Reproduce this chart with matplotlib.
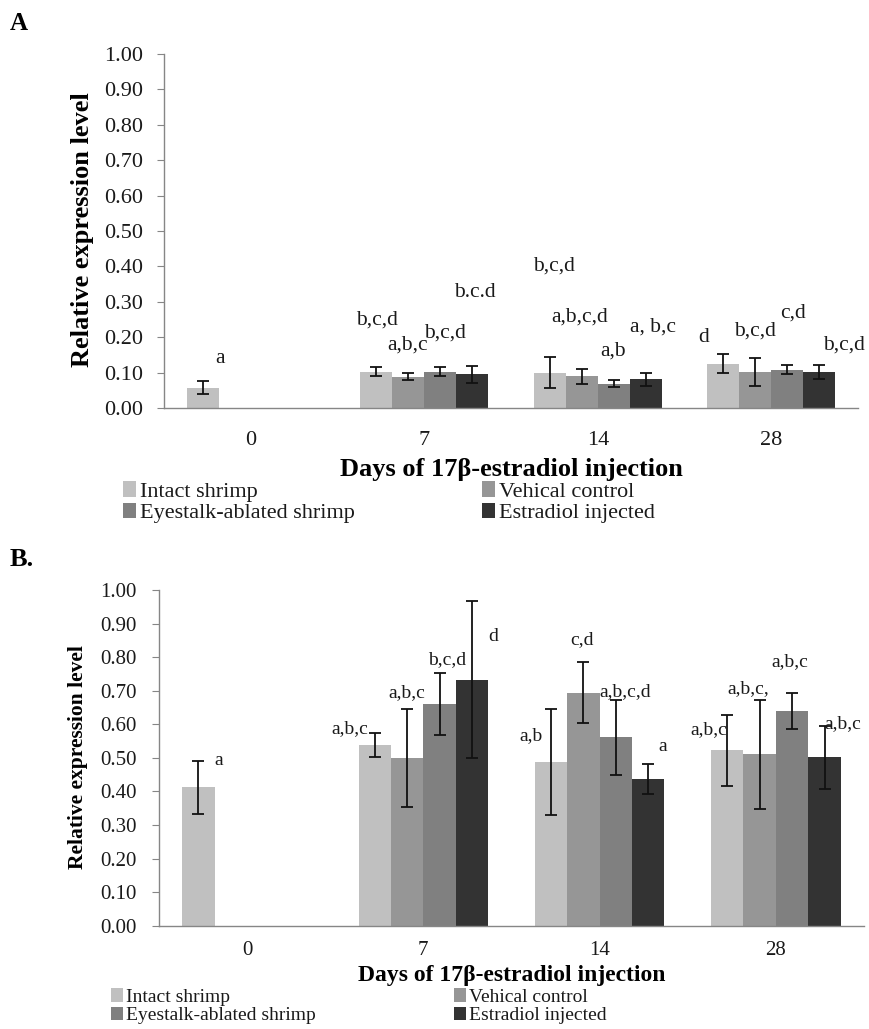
import numpy as np
import matplotlib
matplotlib.use("Agg")
import matplotlib.pyplot as plt

days = ["0", "7", "14", "28"]
series = ["Intact shrimp", "Vehical control", "Eyestalk-ablated shrimp", "Estradiol injected"]
colors = ["#c0c0c0", "#969696", "#808080", "#333333"]

# Panel A values (one list per series, one value per day)
a_intact = [0.057, 0.102, 0.100, 0.125]
a_vehical = [np.nan, 0.088, 0.090, 0.102]
a_eyestalk = [np.nan, 0.102, 0.068, 0.108]
a_estradiol = [np.nan, 0.095, 0.081, 0.102]
a_err_intact = [0.018, 0.013, 0.043, 0.027]
a_err_vehical = [np.nan, 0.010, 0.021, 0.040]
a_err_eyestalk = [np.nan, 0.013, 0.010, 0.013]
a_err_estradiol = [np.nan, 0.023, 0.019, 0.019]

# Panel B values
b_intact = [0.413, 0.539, 0.487, 0.522]
b_vehical = [np.nan, 0.499, 0.694, 0.510]
b_eyestalk = [np.nan, 0.661, 0.561, 0.639]
b_estradiol = [np.nan, 0.733, 0.438, 0.502]
b_err_intact = [0.079, 0.035, 0.158, 0.107]
b_err_vehical = [np.nan, 0.146, 0.091, 0.162]
b_err_eyestalk = [np.nan, 0.092, 0.111, 0.053]
b_err_estradiol = [np.nan, 0.233, 0.045, 0.094]

# Significance letters: text, x in category units, y in data units
a_letters = ["a", "b,c,d", "a,b,c", "b,c,d", "b.c.d", "b,c,d", "a,b,c,d", "a,b",
             "a, b,c", "d", "b,c,d", "c,d", "b,c,d"]
a_letter_x = [-0.18, 0.729, 0.904, 1.121, 1.294, 1.750, 1.894, 2.086, 2.319, 2.612, 2.906, 3.123, 3.417]
a_letter_y = [0.141, 0.248, 0.179, 0.212, 0.325, 0.400, 0.256, 0.160, 0.228, 0.200, 0.218, 0.268, 0.177]

b_letters = ["a", "a,b,c", "a,b,c", "b,c,d", "d", "a,b", "c,d", "a,b,c,d", "a",
             "a,b,c", "a,b,c,", "a,b,c", "a,b,c"]
b_letter_x = [-0.159, 0.581, 0.908, 1.137, 1.397, 1.608, 1.900, 2.147, 2.355, 2.618, 2.841, 3.080, 3.381]
b_letter_y = [0.492, 0.588, 0.694, 0.793, 0.861, 0.565, 0.851, 0.697, 0.533, 0.585, 0.707, 0.786, 0.601]

plt.rcParams['font.family'] = ['Liberation Serif', 'DejaVu Serif']

fig = plt.figure(figsize=(8.7, 10.29), dpi=100)
W, H = 870.0, 1029.0


def fx(px):
    return px / W


def fy(py):
    return 1 - py / H


axis_col = "#868686"
text_col = "#1a1a1a"


def draw_panel(ax, vals, errs, letters, lx, ly, tick_fs, letter_fs, xpad, ypad):
    x = np.arange(len(days))
    w = 0.184
    handles = []
    for j in range(4):
        h = ax.bar(x + (j - 1.5) * w, vals[j], width=w, color=colors[j],
                   edgecolor='none', label=series[j], zorder=2)
        ax.errorbar(x + (j - 1.5) * w, vals[j], yerr=errs[j], fmt='none',
                    ecolor='#111111', elinewidth=1.3, capsize=4, capthick=1.3, zorder=3)
        handles.append(h)
    ax.set_xlim(-0.5, 3.5)
    ax.set_ylim(0, 1.0)
    ticks = np.arange(0, 1.01, 0.1)
    ax.set_yticks(ticks)
    ax.set_yticklabels([f"{v:.2f}" for v in ticks])
    ax.set_xticks(x)
    ax.set_xticklabels(days)
    for s in ['top', 'right']:
        ax.spines[s].set_visible(False)
    for s in ['left', 'bottom']:
        ax.spines[s].set_color(axis_col)
        ax.spines[s].set_linewidth(1.0)
    ax.tick_params(axis='y', direction='out', length=5, color=axis_col,
                   labelsize=tick_fs, labelcolor=text_col, pad=ypad)
    ax.tick_params(axis='x', length=0, labelsize=tick_fs, labelcolor=text_col, pad=xpad)
    for t, xx, yy in zip(letters, lx, ly):
        ax.text(xx, yy, t, ha='center', va='center', fontsize=letter_fs, color=text_col)
    return handles


def add_legends(handles, x1, x2, ytop, fs, spacing):
    for idx, xpos in (([0, 2], x1), ([1, 3], x2)):
        lg = fig.legend([handles[i] for i in idx], [series[i] for i in idx],
                        loc='upper left', bbox_to_anchor=(fx(xpos), fy(ytop)),
                        frameon=False, fontsize=fs, handlelength=0.6, handleheight=0.7,
                        handletextpad=0.15, labelspacing=spacing, borderpad=0,
                        borderaxespad=0)
        for t in lg.get_texts():
            t.set_color(text_col)


# Panel A
axA = fig.add_axes([fx(164), fy(408), fx(858) - fx(164), fy(54) - fy(408)])
hA = draw_panel(axA, [a_intact, a_vehical, a_eyestalk, a_estradiol],
                [a_err_intact, a_err_vehical, a_err_eyestalk, a_err_estradiol],
                a_letters, a_letter_x, a_letter_y, 16, 15.5, 16.5, 10)
fig.text(fx(83), fy(230), "Relative expression level", rotation=90, ha='center', va='center',
         fontsize=19, fontweight='bold', color='black')
fig.text(fx(511), fy(469), "Days of 17β-estradiol injection", ha='center', va='center',
         fontsize=19, fontweight='bold', color='black')
fig.text(fx(10), fy(23), "A", ha='left', va='center', fontsize=18, fontweight='bold')
add_legends(hA, 123, 482, 481, 16, 0.05)

# Panel B
axB = fig.add_axes([fx(159), fy(925.7), fx(864) - fx(159), fy(590) - fy(925.7)])
hB = draw_panel(axB, [b_intact, b_vehical, b_eyestalk, b_estradiol],
                [b_err_intact, b_err_vehical, b_err_eyestalk, b_err_estradiol],
                b_letters, b_letter_x, b_letter_y, 15, 14, 11, 11)
fig.text(fx(78), fy(757), "Relative expression level", rotation=90, ha='center', va='center',
         fontsize=15.5, fontweight='bold', color='black')
fig.text(fx(512), fy(975), "Days of 17β-estradiol injection", ha='center', va='center',
         fontsize=17, fontweight='bold', color='black')
fig.text(fx(10), fy(560), "B.", ha='left', va='center', fontsize=19, fontweight='bold')
add_legends(hB, 111, 454, 988, 14, 0.05)

fig.savefig("out.png", dpi=100)
